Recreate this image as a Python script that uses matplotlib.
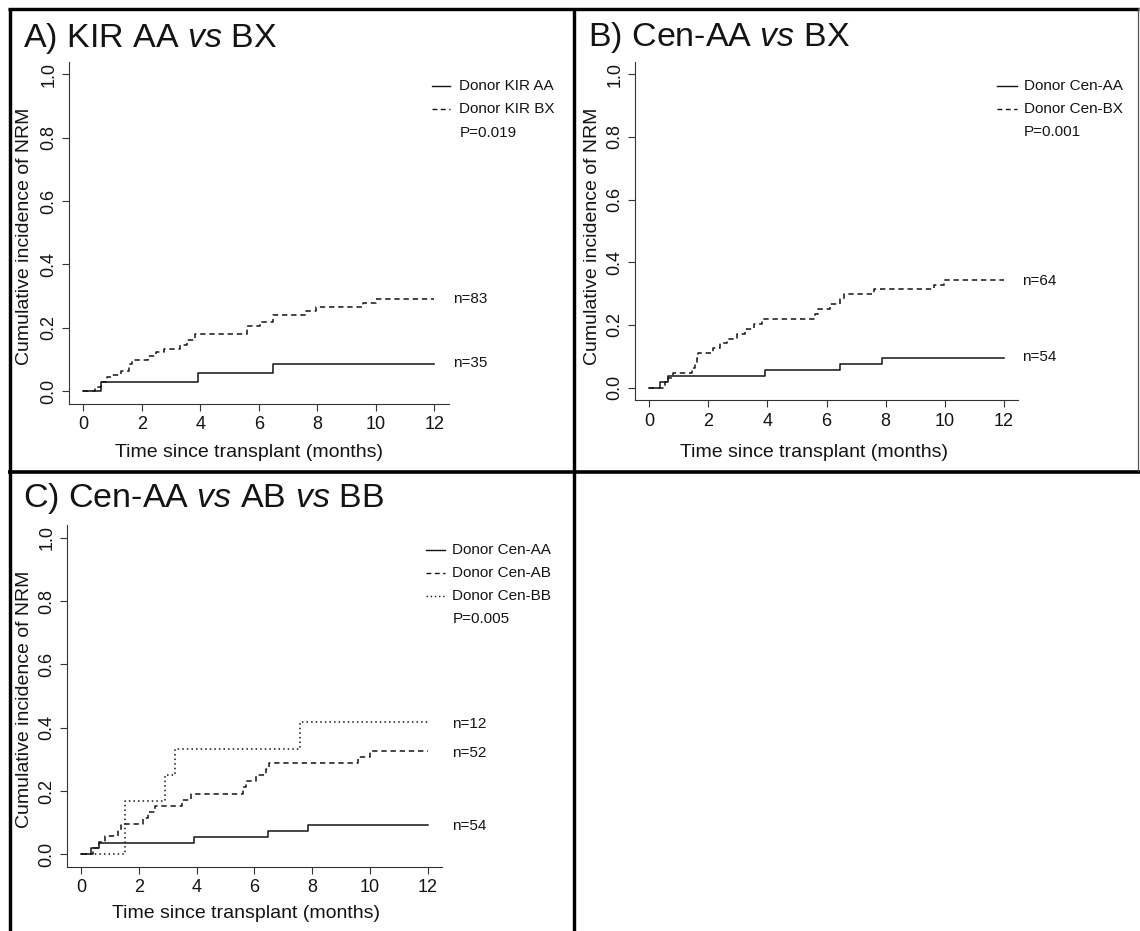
import matplotlib
matplotlib.use("Agg")
import matplotlib.pyplot as plt
import numpy as np
from matplotlib.lines import Line2D

plt.rcParams["font.family"] = ["Liberation Sans", "DejaVu Sans"]
plt.rcParams["mathtext.fontset"] = "custom"
plt.rcParams["mathtext.rm"] = "Liberation Sans"
plt.rcParams["mathtext.it"] = "Liberation Sans:italic"

# ---- data (time in months, cumulative incidence) ----
a_aa_t = [0.62, 3.92, 6.48]
a_aa_y = [0.029, 0.057, 0.086]
a_bx_t = [0.39, 0.62, 0.8, 1.0, 1.3, 1.55, 1.65, 2.2, 2.5, 2.75, 3.3, 3.55, 3.83,
          5.6, 6.05, 6.5, 7.6, 7.95, 9.55, 10.0]
a_bx_y = [0.012, 0.027, 0.044, 0.05, 0.063, 0.084, 0.098, 0.109, 0.122, 0.133, 0.145,
          0.161, 0.18, 0.205, 0.219, 0.24, 0.252, 0.265, 0.277, 0.289]

cen_aa_t = [0.36, 0.62, 3.92, 6.47, 7.87]
cen_aa_y = [0.019, 0.037, 0.056, 0.074, 0.093]
b_bx_t = [0.53, 0.62, 0.79, 1.43, 1.55, 1.62, 1.66, 2.15, 2.4, 2.62, 2.96, 3.24, 3.53,
          3.81, 5.62, 5.72, 6.12, 6.46, 6.58, 7.59, 9.63, 9.97]
b_bx_y = [0.016, 0.031, 0.047, 0.063, 0.078, 0.094, 0.109, 0.125, 0.141, 0.156, 0.172,
          0.188, 0.203, 0.219, 0.234, 0.25, 0.266, 0.281, 0.297, 0.313, 0.328, 0.344]

c_ab_t = [0.43, 0.63, 0.83, 1.29, 1.38, 2.16, 2.33, 2.56, 3.48, 3.79, 5.6, 5.7, 6.07,
          6.4, 6.5, 9.57, 9.99]
c_ab_y = [0.019, 0.038, 0.058, 0.077, 0.096, 0.115, 0.135, 0.154, 0.173, 0.192, 0.212,
          0.231, 0.25, 0.269, 0.288, 0.308, 0.327]
c_bb_t = [1.52, 2.92, 3.25, 7.57]
c_bb_y = [0.167, 0.25, 0.333, 0.417]

titles = ["A) KIR AA $\\mathit{vs}$ BX",
          "B) Cen-AA $\\mathit{vs}$ BX",
          "C) Cen-AA $\\mathit{vs}$ AB $\\mathit{vs}$ BB"]
legend_a = ["Donor KIR AA", "Donor KIR BX"]
legend_b = ["Donor Cen-AA", "Donor Cen-BX"]
legend_c = ["Donor Cen-AA", "Donor Cen-AB", "Donor Cen-BB"]
pvals = ["P=0.019", "P=0.001", "P=0.005"]
n_a = ["n=83", "n=35"]
n_b = ["n=64", "n=54"]
n_c = ["n=12", "n=52", "n=54"]
xticks = [0, 2, 4, 6, 8, 10, 12]
yticks = [0.0, 0.2, 0.4, 0.6, 0.8, 1.0]

W, H = 1140, 931
INK = "#141414"
SOLID = "-"
DASHED = (0, (3.5, 2.5))
DOTTED = (0, (1, 2))

fig = plt.figure(figsize=(W / 100, H / 100), dpi=100)
fig.patch.set_facecolor("white")


def make_axes(x0, x12, y0, y1):
    """Axes whose 0/12 months and 0/1 incidence ticks land on the given pixels."""
    sx = (x12 - x0) / 12.0
    sy = y0 - y1
    left, right = x0 - 0.48 * sx, x12 + 0.48 * sx
    top, bottom = y1 - 0.04 * sy, y0 + 0.04 * sy
    ax = fig.add_axes([left / W, 1 - bottom / H, (right - left) / W, (bottom - top) / H])
    ax.set_xlim(-0.48, 12.48)
    ax.set_ylim(-0.04, 1.04)
    for s in ("top", "right"):
        ax.spines[s].set_visible(False)
    for s in ("left", "bottom"):
        ax.spines[s].set_linewidth(0.8)
        ax.spines[s].set_color("#333333")
    ax.set_xticks(xticks)
    ax.set_yticks(yticks)
    ax.set_yticklabels([f"{v:.1f}" for v in yticks])
    ax.tick_params(direction="out", length=5, width=0.8, color="#333333",
                   labelsize=13, labelcolor=INK)
    ax.tick_params(axis="x", pad=4)
    ax.tick_params(axis="y", pad=3.5, labelrotation=90)
    for lab in ax.get_yticklabels():
        lab.set_va("center")
    return ax


def step_curve(ax, t, y, ls):
    xs = np.r_[0.0, t, 12.0]
    ys = np.r_[0.0, y, y[-1]]
    ax.step(xs, ys, where="post", color=INK, lw=1.1, linestyle=ls)


def legend(ax, labels, styles, pval, lx0, lx1, tx):
    rows = [0.962 - 0.073 * i for i in range(len(labels) + 1)]
    for lab, ls, ry in zip(labels, styles, rows):
        ax.plot([lx0, lx1], [ry, ry], color=INK, lw=1.0, linestyle=ls, clip_on=False)
        ax.text(tx, ry, lab, fontsize=11, va="center", ha="left", color=INK)
    ax.text(tx, rows[len(labels)], pval, fontsize=11, va="center", ha="left", color=INK)


def n_labels(ax, labels, ys, x):
    for lab, yy in zip(labels, ys):
        ax.text(x, yy, lab, fontsize=11, va="center", ha="left", color=INK)


def px_text(x, y, s, **kw):
    fig.text(x / W, 1 - y / H, s, color=INK, **kw)


# ---- panel A ----
ax_a = make_axes(83.2, 434.5, 391.0, 74.3)
step_curve(ax_a, a_aa_t, a_aa_y, SOLID)
step_curve(ax_a, a_bx_t, a_bx_y, DASHED)
legend(ax_a, legend_a, [SOLID, DASHED], pvals[0], 11.93, 12.53, 12.85)
n_labels(ax_a, n_a, [0.289, 0.088], 12.64)

# ---- panel B ----
ax_b = make_axes(649.3, 1003.8, 387.5, 74.3)
step_curve(ax_b, cen_aa_t, cen_aa_y, SOLID)
step_curve(ax_b, b_bx_t, b_bx_y, DASHED)
legend(ax_b, legend_b, [SOLID, DASHED], pvals[1], 11.77, 12.43, 12.68)
n_labels(ax_b, n_b, [0.340, 0.097], 12.62)

# ---- panel C ----
ax_c = make_axes(81.0, 427.8, 854.3, 537.8)
step_curve(ax_c, cen_aa_t, cen_aa_y, SOLID)
step_curve(ax_c, c_ab_t, c_ab_y, DASHED)
step_curve(ax_c, c_bb_t, c_bb_y, DOTTED)
legend(ax_c, legend_c, [SOLID, DASHED, DOTTED], pvals[2], 11.93, 12.6, 12.85)
n_labels(ax_c, n_c, [0.412, 0.321, 0.088], 12.85)

# titles and axis labels (placed in pixels)
px_text(23, 47, titles[0], fontsize=24.5, ha="left", va="baseline")
px_text(588, 46, titles[1], fontsize=24.5, ha="left", va="baseline")
px_text(23, 507, titles[2], fontsize=24.5, ha="left", va="baseline")

xlab = "Time since transplant (months)"
ylab = "Cumulative incidence of NRM"
for (xc, yb) in [(249.5, 457), (814.5, 457), (246.3, 918.5)]:
    px_text(xc, yb, xlab, fontsize=14, ha="center", va="baseline")
for (xb, yc) in [(29.3, 236.7), (597.3, 236.7), (29.3, 699.2)]:
    px_text(xb, yc, ylab, fontsize=14, ha="center", va="baseline",
            rotation=90, rotation_mode="anchor")

# panel frame lines
def frame_line(x0, y0, x1, y1, lw, color="black"):
    fig.add_artist(Line2D([x0 / W, x1 / W], [1 - y0 / H, 1 - y1 / H],
                          transform=fig.transFigure, color=color, lw=lw,
                          solid_capstyle="butt"))

frame_line(8, 9, 1139, 9, 2.45)
frame_line(10, 8, 10, 931, 2.45)
frame_line(574, 8, 574, 931, 2.45)
frame_line(8, 472, 1140, 472, 2.6)
frame_line(1138.3, 8, 1138.3, 471, 0.9, color="#555555")

fig.savefig("out.png", dpi=100, facecolor="white")
